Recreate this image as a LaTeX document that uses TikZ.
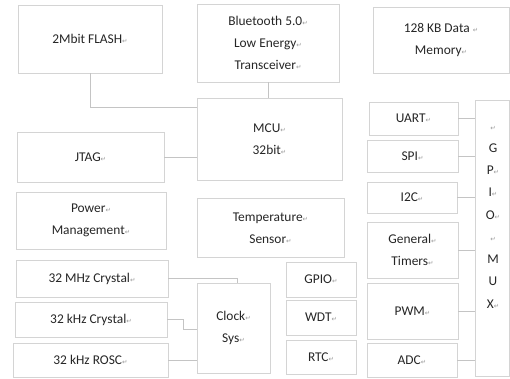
\documentclass[tikz,border=0pt]{standalone}
\usepackage{fontspec}
\setmainfont{Carlito}
\newfontfamily\symfont{DejaVu Sans}
\definecolor{boxc}{HTML}{D4D4D4}
\definecolor{linec}{HTML}{C4C4C4}
\definecolor{txt}{HTML}{262626}
\newcommand\rmk{{\symfont\fontsize{6.5}{6.5}\selectfont\color{black!40}↵}}
\begin{document}
\begin{tikzpicture}[x=1pt,y=-1pt,
  box/.style={draw=boxc, line width=0.9pt, inner sep=0pt, align=center, text=txt,
    font=\fontsize{13.4}{22}\selectfont},
  link/.style={draw=linec, line width=0.9pt}]
\fill[white] (0,0) rectangle (510,378);
\useasboundingbox (0,0) rectangle (510,378);
% top row
\node[box, minimum width=144, minimum height=68] (flash) at (90,39) {2Mbit FLASH\rmk};
\node[box, minimum width=142, minimum height=78] (bt) at (268,43) {Bluetooth 5.0\rmk\\Low Energy\rmk\\Transceiver\rmk};
\node[box, minimum width=136, minimum height=66] (mem) at (441,40) {128 KB Data \rmk\\Memory\rmk};
% middle
\node[box, minimum width=145, minimum height=82] (mcu) at (269.5,139) {MCU\rmk\\32bit\rmk};
\node[box, minimum width=147, minimum height=50] (jtag) at (90.5,157) {JTAG\rmk};
\node[box, minimum width=150, minimum height=57] (power) at (91,220.5) {Power\rmk\\Management\rmk};
\node[box, minimum width=147, minimum height=59] (temp) at (270.5,228) {Temperature\rmk\\Sensor\rmk};
% clocks
\node[box, minimum width=152, minimum height=37] (c32m) at (92,278.5) {32 MHz Crystal\rmk};
\node[box, minimum width=152, minimum height=35] (c32k) at (91,319.5) {32 kHz Crystal\rmk};
\node[box, minimum width=155, minimum height=34] (rosc) at (90.5,360) {32 kHz ROSC\rmk};
\node[box, minimum width=73, minimum height=90] (clk) at (233.5,328) {Clock\rmk\\Sys\rmk};
% small blocks
\node[box, minimum width=70, minimum height=35] (gpio) at (321,279.5) {GPIO\rmk};
\node[box, minimum width=70, minimum height=35] (wdt) at (321,317.5) {WDT\rmk};
\node[box, minimum width=70, minimum height=34] (rtc) at (321,357) {RTC\rmk};
% peripherals
\node[box, minimum width=89, minimum height=33] (uart) at (413.5,118.5) {UART\rmk};
\node[box, minimum width=91, minimum height=32] (spi) at (412.5,156) {SPI\rmk};
\node[box, minimum width=90, minimum height=31] (i2c) at (412,197.5) {I2C\rmk};
\node[box, minimum width=91, minimum height=56] (gt) at (412.5,250) {General\rmk\\Timers\rmk};
\node[box, minimum width=91, minimum height=56] (pwm) at (412.5,311) {PWM\rmk};
\node[box, minimum width=90, minimum height=34] (adc) at (412,360) {ADC\rmk};
% GPIO MUX
\node[box, minimum width=34, minimum height=276] (mux) at (492,238) {};
\node[align=center, inner sep=0pt, text=txt, font=\fontsize{13.4}{22.25}\selectfont] (muxtext) at (493,217)
  {\rmk\\G\\P\rmk\\I\rmk\\O\rmk\\\rmk\\M\\U\\X\rmk};
% connectors
\draw[link] (flash.south) |- (mcu.west |- 0,107);
\draw[link] (jtag.east) -- (mcu.west |- jtag.east);
\draw[link] (bt.south) -- (bt.south |- mcu.north);
\draw[link] (c32m.east) -| ([xshift=3.5pt]clk.north);
\coordinate (kbend) at (183,329);
\draw[link] (c32k.east) -| (kbend) -- (clk.west |- kbend);
\draw[link] (rosc.east) -- (clk.west |- rosc.east);
\foreach \n in {uart,spi,i2c,gt,pwm,adc}
  \draw[link] (\n.east) -- (mux.west |- \n.east);
\end{tikzpicture}
\end{document}
